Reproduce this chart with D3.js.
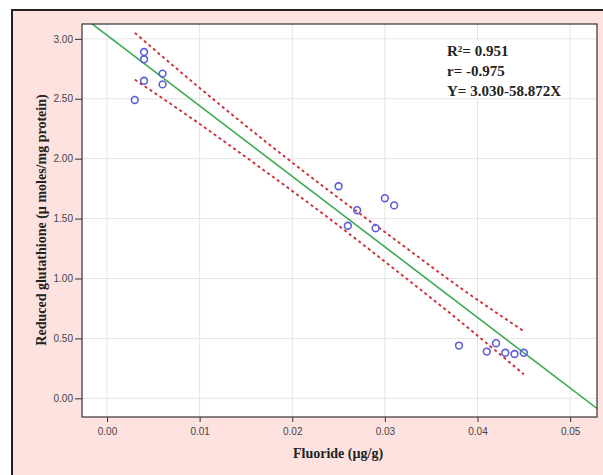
<!DOCTYPE html>
<html>
<head>
<meta charset="utf-8">
<script src="https://cdn.jsdelivr.net/npm/d3@7"></script>
<style>
  html, body { margin: 0; padding: 0; background: #ffffff; }
  svg { display: block; }
</style>
</head>
<body>
<script>
// Observed values
const fluoride = [0.004, 0.004, 0.004, 0.003, 0.006, 0.006, 0.025, 0.026, 0.027, 0.029, 0.030, 0.031, 0.038, 0.041, 0.042, 0.043, 0.044, 0.045];
const glutathione = [2.89, 2.83, 2.65, 2.49, 2.71, 2.62, 1.77, 1.44, 1.57, 1.42, 1.67, 1.61, 0.44, 0.39, 0.46, 0.38, 0.37, 0.38];

// Fit line Y = a + bX
const intercept = 3.030;
const slope = -58.872;

// 95% confidence band
const bandX = [0.003, 0.010, 0.017, 0.024, 0.031, 0.038, 0.045];
const bandUpper = [3.05, 2.59, 2.15, 1.73, 1.33, 0.93, 0.56];
const bandLower = [2.66, 2.29, 1.90, 1.50, 1.08, 0.65, 0.20];

const xTicks = [0, 0.01, 0.02, 0.03, 0.04, 0.05];
const yTicks = [0, 0.5, 1.0, 1.5, 2.0, 2.5, 3.0];
const statsText = ["R\u00B2= 0.951", "r= -0.975", "Y= 3.030-58.872X"];

const W = 603, H = 475;
const margin = { top: 24, right: 6, bottom: 58, left: 82 };
const width = W - margin.left - margin.right;
const height = H - margin.top - margin.bottom;
const serif = "'Liberation Serif', 'Times New Roman', serif";

const svg = d3.select("body").append("svg")
    .attr("width", W)
    .attr("height", H);

// Pink outer panel
svg.append("rect")
    .attr("x", 12).attr("y", 10)
    .attr("width", 640).attr("height", 500)
    .attr("fill", "#fde2df")
    .attr("stroke", "#222")
    .attr("stroke-width", 2);

const g = svg.append("g")
    .attr("transform", `translate(${margin.left},${margin.top})`);

const x = d3.scaleLinear().domain([-0.0027, 0.0529]).range([0, width]);
const y = d3.scaleLinear().domain([-0.156, 3.124]).range([height, 0]);

g.append("rect")
    .attr("width", width).attr("height", height)
    .attr("fill", "#fff");

g.append("clipPath").attr("id", "clip")
  .append("rect").attr("width", width).attr("height", height);

// Grid
g.selectAll(".vgrid").data(xTicks).enter().append("line")
    .attr("x1", d => x(d)).attr("x2", d => x(d))
    .attr("y1", 0).attr("y2", height)
    .attr("stroke", "#e4e4e4").attr("stroke-width", 1);
g.selectAll(".hgrid").data(yTicks).enter().append("line")
    .attr("x1", 0).attr("x2", width)
    .attr("y1", d => y(d)).attr("y2", d => y(d))
    .attr("stroke", "#e4e4e4").attr("stroke-width", 1);

// White box behind the stats
g.append("rect")
    .attr("x", 445 - margin.left).attr("y", 40 - margin.top)
    .attr("width", 124).attr("height", 58)
    .attr("fill", "#fff");

const plot = g.append("g").attr("clip-path", "url(#clip)");

// Fit line
const xd = x.domain();
plot.append("line")
    .attr("x1", x(xd[0])).attr("y1", y(intercept + slope * xd[0]))
    .attr("x2", x(xd[1])).attr("y2", y(intercept + slope * xd[1]))
    .attr("stroke", "#3aab55")
    .attr("stroke-width", 1.6);

// Confidence band
const bandLine = d3.line()
    .x(d => x(d[0])).y(d => y(d[1]))
    .curve(d3.curveMonotoneX);
[bandUpper, bandLower].forEach(vals => {
  plot.append("path")
      .datum(bandX.map((v, i) => [v, vals[i]]))
      .attr("d", bandLine)
      .attr("fill", "none")
      .attr("stroke", "#cc2f36")
      .attr("stroke-width", 1.9)
      .attr("stroke-dasharray", "3,3");
});

// Points
plot.selectAll("circle")
    .data(fluoride.map((v, i) => [v, glutathione[i]]))
  .enter().append("circle")
    .attr("cx", d => x(d[0]))
    .attr("cy", d => y(d[1]))
    .attr("r", 3.4)
    .attr("fill", "none")
    .attr("stroke", "#5e5ed8")
    .attr("stroke-width", 1.6);

// Frame
g.append("rect")
    .attr("width", width).attr("height", height)
    .attr("fill", "none")
    .attr("stroke", "#333")
    .attr("stroke-width", 1.2);

// Axes
const xAxis = g.append("g")
    .attr("transform", `translate(0,${height})`)
    .call(d3.axisBottom(x).tickValues(xTicks).tickFormat(d3.format(".2f")).tickSize(5).tickPadding(6));
const yAxis = g.append("g")
    .call(d3.axisLeft(y).tickValues(yTicks).tickFormat(d3.format(".2f")).tickSize(7).tickPadding(2));
[xAxis, yAxis].forEach(a => {
  a.select(".domain").remove();
  a.selectAll("line").attr("stroke", "#333");
  a.selectAll("text")
      .attr("fill", "#444")
      .style("font-family", "'Liberation Sans', Arial, sans-serif")
      .style("font-size", "10px");
});

// Stats annotation
g.selectAll(".stat").data(statsText).enter().append("text")
    .attr("x", 447 - margin.left)
    .attr("y", (d, i) => 56 - margin.top + i * 20)
    .style("font-family", serif)
    .style("font-weight", "bold")
    .style("font-size", "15px")
    .attr("fill", "#222")
    .text(d => d);

// Axis titles
svg.append("text")
    .attr("x", 338).attr("y", 458)
    .attr("text-anchor", "middle")
    .style("font-family", serif)
    .style("font-weight", "bold")
    .style("font-size", "14px")
    .attr("fill", "#222")
    .text("Fluoride (\u00B5g/g)");

svg.append("text")
    .attr("transform", "translate(46,220) rotate(-90)")
    .attr("text-anchor", "middle")
    .style("font-family", serif)
    .style("font-weight", "bold")
    .style("font-size", "14px")
    .attr("fill", "#222")
    .text("Reduced glutathione (\u00B5 moles/mg protein)");
</script>
</body>
</html>
